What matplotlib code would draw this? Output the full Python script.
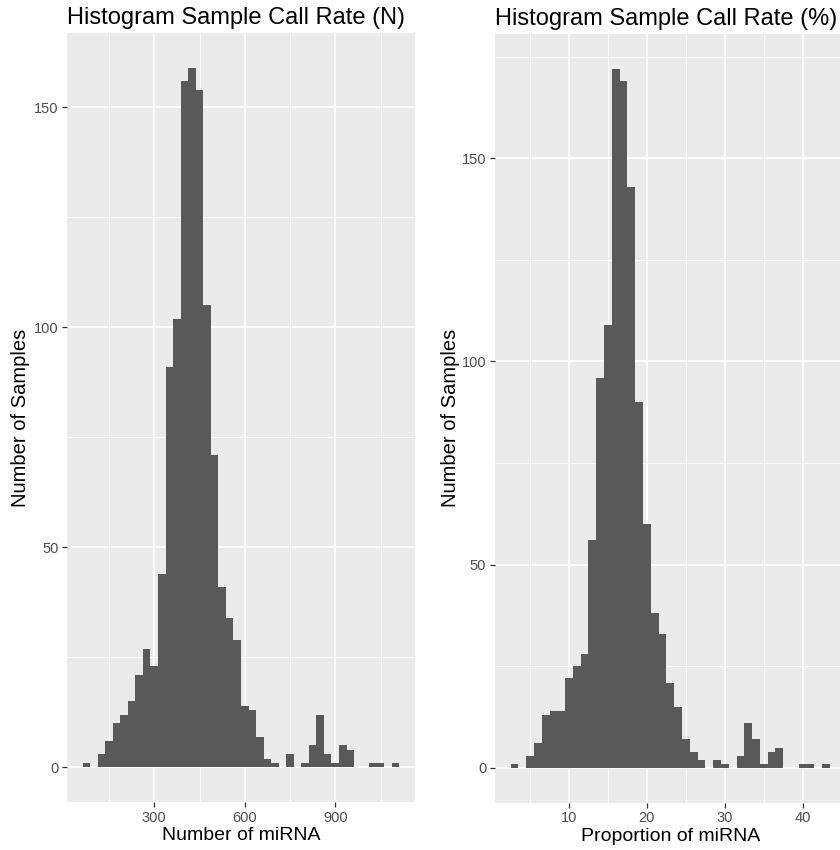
import matplotlib
matplotlib.use("Agg")
import matplotlib.pyplot as plt
from matplotlib.ticker import FixedLocator

plt.rcParams['font.family'] = ['Liberation Sans', 'DejaVu Sans']

# ---------------- data ----------------
n_bin_centers = [75, 100, 125, 150, 175, 200, 225, 250, 275, 300,
                 325, 350, 375, 400, 425, 450, 475, 500, 525, 550,
                 575, 600, 625, 650, 675, 700, 725, 750, 775, 800,
                 825, 850, 875, 900, 925, 950, 975, 1000, 1025, 1050,
                 1075, 1100]
n_counts = [1, 0, 3, 6, 10, 12, 15, 21, 27, 23,
            44, 91, 102, 156, 159, 154, 105, 71, 41, 34,
            29, 14, 13, 7, 2, 1, 0, 3, 0, 1,
            5, 12, 3, 1, 5, 4, 0, 0, 1, 1,
            0, 1]
n_binwidth = 25

pct_bin_centers = [3, 4, 5, 6, 7, 8, 9, 10, 11, 12, 13, 14, 15, 16, 17, 18,
                   19, 20, 21, 22, 23, 24, 25, 26, 27, 28, 29, 30, 31, 32,
                   33, 34, 35, 36, 37, 38, 39, 40, 41, 42, 43]
pct_counts = [1, 0, 3, 6, 13, 14, 14, 22, 25, 28, 56, 96, 109, 172, 169, 143,
              90, 60, 38, 33, 21, 15, 7, 4, 2, 0, 2, 1, 0, 3,
              11, 7, 1, 4, 5, 0, 0, 1, 1, 0, 1]
pct_binwidth = 1

titles = ["Histogram Sample Call Rate (N)", "Histogram Sample Call Rate (%)"]
xlabels = ["Number of miRNA", "Proportion of miRNA"]
ylabel = "Number of Samples"
n_xticks = [300, 600, 900]
pct_xticks = [10, 20, 30, 40]
yticks = [0, 50, 100, 150]

# ---------------- style ----------------
BAR = '#595959'
PANEL = '#EBEBEB'
TICKTXT = '#4D4D4D'
TICKLINE = '#333333'

fig = plt.figure(figsize=(8.4, 8.5), dpi=100)
fig.patch.set_facecolor('white')

ax1 = fig.add_axes([0.0795, 0.0561, 0.4148, 0.9054])
ax2 = fig.add_axes([0.5888, 0.0555, 0.4183, 0.9048])


def style(ax, centers, counts, bw, xticks, xminor, title, xlabel, ylpad):
    ax.set_facecolor(PANEL)
    ax.bar(centers, counts, width=bw, color=BAR, edgecolor='none', linewidth=0, zorder=3)
    lo = centers[0] - bw / 2
    hi = centers[-1] + bw / 2
    ex = (hi - lo) * 0.05
    ax.set_xlim(lo - ex, hi + ex)
    top = max(counts)
    ax.set_ylim(-top * 0.05, top * 1.05)
    ax.xaxis.set_major_locator(FixedLocator(xticks))
    ax.xaxis.set_minor_locator(FixedLocator(xminor))
    ax.yaxis.set_major_locator(FixedLocator(yticks))
    ax.yaxis.set_minor_locator(FixedLocator([25, 75, 125, 175]))
    ax.grid(which='major', color='white', linewidth=1.3, zorder=0)
    ax.grid(which='minor', color='white', linewidth=0.65, zorder=0)
    ax.set_axisbelow(True)
    for s in ax.spines.values():
        s.set_visible(False)
    ax.tick_params(which='major', length=3.5, width=0.9, color=TICKLINE,
                   labelcolor=TICKTXT, labelsize=10.5, pad=2.5)
    ax.tick_params(which='minor', length=0)
    ax.set_title(title, loc='left', fontsize=17, color='black', pad=6)
    ax.set_xlabel(xlabel, fontsize=14, color='black', labelpad=2)
    ax.set_ylabel(ylabel, fontsize=14.5, color='black', labelpad=ylpad)


style(ax1, n_bin_centers, n_counts, n_binwidth, n_xticks, [150, 450, 750, 1050],
      titles[0], xlabels[0], 3)
style(ax2, pct_bin_centers, pct_counts, pct_binwidth, pct_xticks, [5, 15, 25, 35, 45],
      titles[1], xlabels[1], 1)

fig.savefig('out.png', dpi=100)
